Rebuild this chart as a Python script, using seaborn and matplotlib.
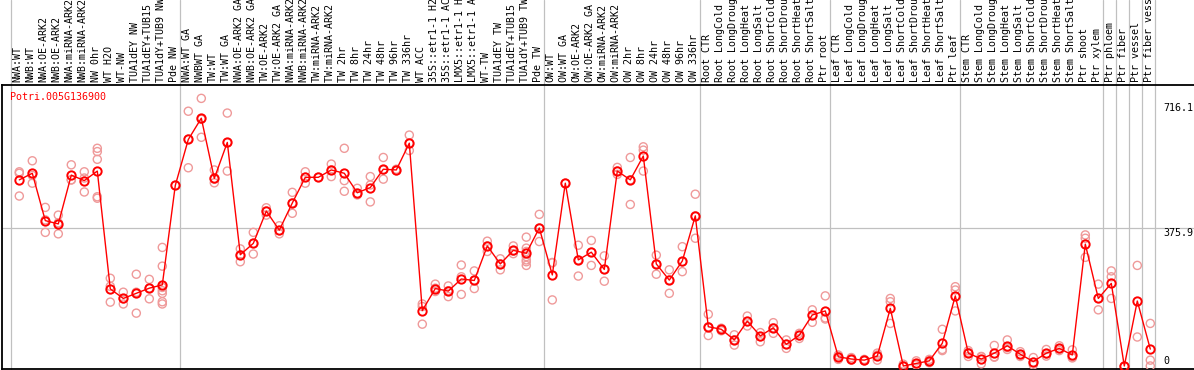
"""Expression profile of one poplar gene across sample groups (means + replicates)."""
import numpy as np
import pandas as pd
import matplotlib
matplotlib.use('Agg')
import matplotlib.pyplot as plt
import matplotlib.transforms as mtransforms
import seaborn as sns

GENE = 'Potri.005G136900'

samples = [
    'NWA:WT', 'NWB:WT', 'NWA:OE-ARK2', 'NWB:OE-ARK2', 'NWA:miRNA-ARK2', 'NWB:miRNA-ARK2',
    'NW 0hr', 'WT H2O', 'WT-NW', 'TUA1dEY NW', 'TUA1dEY+TUB15 NW', 'TUA1dY+TUB9 NW', 'Pde NW',
    'NWA:WT GA', 'NWBWT GA', 'TW:WT', 'TW:WT GA', 'NWA:OE-ARK2 GA', 'NWB:OE-ARK2 GA',
    'TW:OE-ARK2', 'TW:OE-ARK2 GA', 'NWA:miRNA-ARK2 GA', 'NWB:miRNA-ARK2 GA', 'TW:miRNA-ARK2',
    'TW:miRNA-ARK2 GA', 'TW 2hr', 'TW 8hr', 'TW 24hr', 'TW 48hr', 'TW 96hr', 'TW 336hr',
    'WT ACC', '35S::etr1-1 H2O', '35S::etr1-1 ACC', 'LMX5::etr1-1 H2O', 'LMX5::etr1-1 ACC',
    'WT-TW', 'TUA1dEY TW', 'TUA1dEY+TUB15 TW', 'TUA1dY+TUB9 TW', 'Pde TW',
    'OW:WT', 'OW:WT GA', 'OW:OE-ARK2', 'OW:OE-ARK2 GA', 'OW:miRNA-ARK2', 'OW:miRNA-ARK2 GA',
    'OW 2hr', 'OW 8hr', 'OW 24hr', 'OW 48hr', 'OW 96hr', 'OW 336hr',
    'Root CTR', 'Root LongCold', 'Root LongDrought', 'Root LongHeat', 'Root LongSalt',
    'Root ShortCold', 'Root ShortDrought', 'Root ShortHeat', 'Root ShortSalt', 'Ptr root',
    'Leaf CTR', 'Leaf LongCold', 'Leaf LongDrought', 'Leaf LongHeat', 'Leaf LongSalt',
    'Leaf ShortCold', 'Leaf ShortDrought', 'Leaf ShortHeat', 'Leaf ShortSalt', 'Ptr leaf',
    'Stem CTR', 'Stem LongCold', 'Stem LongDrought', 'Stem LongHeat', 'Stem LongSalt',
    'Stem ShortCold', 'Stem ShortDrought', 'Stem ShortHeat', 'Stem ShortSalt', 'Ptr shoot',
    'Ptr xylem', 'Ptr phloem', 'Ptr fiber', 'Ptr vessel', 'Ptr fiber vessel',
]

group_sizes = [13, 28, 12, 10, 10, 11, 1, 1, 1, 1]

mean_expr = [
    507, 525, 396, 387, 520, 505, 531, 210, 184, 198, 212, 221, 492,
    617, 675, 511, 609, 303, 334, 422, 370, 444, 514, 514, 534, 525, 472, 486,
    536, 534, 607, 151, 211, 204, 237, 233, 327, 278, 315, 307, 376,
    248, 498, 289, 310, 263, 531, 507, 572, 278, 234, 286, 409,
    107, 100, 71, 122, 82, 104, 59, 84, 139, 150,
    25, 19, 16, 27, 157, 0, 7, 14, 62, 191,
    35, 19, 35, 55, 32, 12, 35, 48, 30, 332, 184,
    225, 0, 177, 46,
]

replicates = [
    [529, 525, 463], [559, 519, 498], [432, 398, 364], [411, 390, 360], [548, 507, 507],
    [529, 512, 474], [593, 584, 563, 461, 457], [239, 217, 174], [201, 183, 169],
    [250, 201, 144], [236, 212, 183], [323, 272, 214, 205, 198, 175, 169], [492],
    [694, 618, 540], [729, 672, 623], [534, 509, 499], [689, 608, 531], [319, 303, 284],
    [364, 334, 305], [431, 422, 411], [382, 369, 360], [473, 444, 416], [529, 514, 498],
    [514], [550, 534, 516], [593, 505, 476], [484, 470, 466], [516, 493, 447],
    [568, 534, 509], [536, 532], [629, 607, 587], [169, 162, 114], [223, 212, 203],
    [218, 205, 189], [275, 243, 195], [259, 234, 211], [340, 327, 312], [292, 278, 262],
    [327, 313, 306], [351, 321, 312, 298, 289, 284, 274], [413, 376, 339],
    [282, 281, 180], [498], [329, 289, 245], [342, 310, 274], [300, 263, 231],
    [541, 531, 522], [568, 507, 440], [597, 588, 531], [302, 278, 250], [262, 234, 198],
    [325, 284, 257], [468, 409, 348],
    [141, 107, 83], [103, 96], [85, 71, 57], [136, 121, 109], [91, 80, 66],
    [118, 104, 89], [71, 59, 48], [89, 82, 75], [153, 139, 119], [191, 131, 128],
    [30, 18, 27], [23, 16, 18], [18, 14, 16], [35, 16, 30], [184, 175, 116],
    [5, 0], [14, 3, 5], [18, 9, 14], [100, 45, 42], [216, 207, 150],
    [42, 26, 37], [26, 6, 25], [56, 24, 25], [71, 45, 50], [39, 26, 31],
    [23, 3, 10], [45, 27, 33], [55, 42, 47], [44, 24, 22], [357, 348, 296],
    [223, 184, 153], [259, 243, 184], [0], [274, 79], [116, 16, 0],
]

y_ticks = [716.1, 375.9, 0]
y_tick_labels = ['716.1', '375.9', '0']

MEAN_COLOR = '#ff0000'
REP_COLOR = '#ef9a9a'
GRID_COLOR = '#c0c0c0'

# figure geometry (pixels)
W, H = 1194, 370
AX_LEFT, AX_TOP, AX_BOTTOM = 1.5, 85, 369
X0, DX = 19.3, 13.0          # first sample position and spacing

sns.set_theme(style='white')
plt.rcParams['font.family'] = ['DejaVu Sans Mono']

fig = plt.figure(figsize=(W / 100, H / 100), dpi=100)
ax_h = (AX_BOTTOM - AX_TOP) / H
ax = fig.add_axes([AX_LEFT / W, (H - AX_BOTTOM) / H, (W - AX_LEFT) / W, ax_h])

mean_df = pd.DataFrame({'pos': np.arange(len(samples)), 'expr': mean_expr})
rep_df = pd.DataFrame(
    [(i, v) for i, vals in enumerate(replicates) for v in vals],
    columns=['pos', 'expr'],
)

sns.scatterplot(data=rep_df, x='pos', y='expr', ax=ax, marker='o', s=34,
                facecolor='none', edgecolor=REP_COLOR, linewidth=1.0, zorder=3)
sns.lineplot(data=mean_df, x='pos', y='expr', ax=ax, color=MEAN_COLOR, linewidth=1.0,
             marker='o', markersize=6, markerfacecolor='none',
             markeredgecolor=MEAN_COLOR, markeredgewidth=1.4,
             estimator=None, sort=False, zorder=4)

ax.set_xlim((AX_LEFT - X0) / DX, (W - X0) / DX)
ypp = 375.9 / (366 - 228)    # value per pixel
ax.set_ylim(-(AX_BOTTOM - 366) * ypp, (366 - AX_TOP) * ypp)
ax.set_xticks([])
ax.set_yticks([])
ax.set_xlabel('')
ax.set_ylabel('')

for side in ('left', 'bottom', 'top'):
    ax.spines[side].set_color('black')
    ax.spines[side].set_linewidth(1.3)
ax.spines['right'].set_visible(False)

# group separators run through header as well
ends = np.cumsum([0] + group_sizes) - 1
for e in ends:
    ax.axvline(e + 5 / DX, ymin=-1 / (AX_BOTTOM - AX_TOP), ymax=1 + AX_TOP / (AX_BOTTOM - AX_TOP),
               color=GRID_COLOR, linewidth=0.9, clip_on=False, zorder=1)
ax.axhline(375.9, color=GRID_COLOR, linewidth=0.9, zorder=1)

# rotated sample labels in the header
trans = mtransforms.blended_transform_factory(ax.transData, ax.transAxes)
label_y = 1 + 3 / (AX_BOTTOM - AX_TOP)
for i, name in enumerate(samples):
    ax.text(i - 0.12, label_y, name, rotation=90, ha='center', va='bottom',
            fontsize=7.2, color='black', transform=trans, clip_on=False)

# value labels on the right
rtrans = mtransforms.blended_transform_factory(ax.transAxes, ax.transData)
rx = (1163 - AX_LEFT) / (W - AX_LEFT)
for val, lab in zip(y_ticks, y_tick_labels):
    ax.text(rx, val, lab, ha='left', va='top' if val > 0 else 'bottom',
            fontsize=7.2, color='black', transform=rtrans)

ax.text((10 - AX_LEFT) / (W - AX_LEFT), 1 - (97 - AX_TOP) / (AX_BOTTOM - AX_TOP), GENE,
        ha='left', va='center', fontsize=7.2, color=MEAN_COLOR, transform=ax.transAxes)

fig.savefig('out.png', dpi=100)
